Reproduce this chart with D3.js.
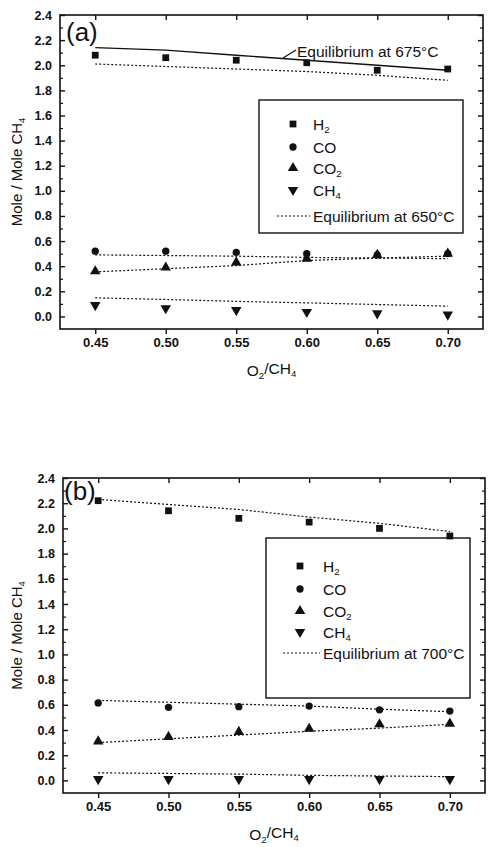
<!DOCTYPE html>
<html>
<head>
<meta charset="utf-8">
<script src="https://cdn.jsdelivr.net/npm/d3@7"></script>
<style>
  body { margin: 0; background: #fff; }
  text { font-family: "Liberation Sans", Arial, sans-serif; fill: #111; }
</style>
</head>
<body>
<script>
var WIDTH  = 488;
var HEIGHT = 847;

// x values and ticks
var o2ch4  = [0.45, 0.50, 0.55, 0.60, 0.65, 0.70];
var xTicks = [0.45, 0.50, 0.55, 0.60, 0.65, 0.70];
var yTicks = [0.0, 0.2, 0.4, 0.6, 0.8, 1.0, 1.2, 1.4, 1.6, 1.8, 2.0, 2.2, 2.4];
var yMinor = [0.1, 0.3, 0.5, 0.7, 0.9, 1.1, 1.3, 1.5, 1.7, 1.9, 2.1, 2.3];

// panel (a): measured
var aH2  = [2.08, 2.06, 2.04, 2.02, 1.96, 1.97];
var aCO  = [0.52, 0.52, 0.51, 0.50, 0.49, 0.50];
var aCO2 = [0.36, 0.39, 0.43, 0.46, 0.49, 0.50];
var aCH4 = [0.09, 0.065, 0.05, 0.035, 0.025, 0.015];
// panel (a): equilibrium at 650 C (dotted) and 675 C (solid, H2 only)
var eq650H2  = [2.01, 1.99, 1.97, 1.95, 1.92, 1.88];
var eq650CO  = [0.49, 0.485, 0.48, 0.47, 0.465, 0.46];
var eq650CO2 = [0.355, 0.38, 0.405, 0.445, 0.465, 0.48];
var eq650CH4 = [0.148, 0.135, 0.12, 0.108, 0.095, 0.082];
var eq675H2  = [2.14, 2.12, 2.08, 2.04, 2.00, 1.96];

// panel (b): measured
var bH2  = [2.22, 2.14, 2.08, 2.05, 2.00, 1.94];
var bCO  = [0.615, 0.58, 0.585, 0.59, 0.56, 0.55];
var bCO2 = [0.31, 0.345, 0.385, 0.41, 0.445, 0.45];
var bCH4 = [0.01, 0.01, 0.01, 0.01, 0.01, 0.01];
// panel (b): equilibrium at 700 C
var eq700H2  = [2.23, 2.19, 2.15, 2.09, 2.04, 1.975];
var eq700CO  = [0.635, 0.62, 0.605, 0.59, 0.565, 0.545];
var eq700CO2 = [0.30, 0.33, 0.36, 0.39, 0.415, 0.445];
var eq700CH4 = [0.06, 0.055, 0.05, 0.04, 0.035, 0.03];

var svg = d3.select('body')
            .append('svg')
            .attr('width', WIDTH)
            .attr('height', HEIGHT);

var symbols = {
  H2:  { type: d3.symbolSquare,   size: 46, rot: 0 },
  CO:  { type: d3.symbolCircle,   size: 42, rot: 0 },
  CO2: { type: d3.symbolTriangle, size: 48, rot: 0 },
  CH4: { type: d3.symbolTriangle, size: 48, rot: 180 }
};

function subText(sel, parts) {
  // parts: [[text, isSub], ...]
  parts.forEach(function(p) {
    var t = sel.append('tspan').text(p[0]);
    if (p[1]) t.attr('font-size', '0.62em').attr('dy', '0.35em');
    else if (sel.selectAll('tspan').size() > 1) t.attr('dy', '-0.35em');
  });
}

function drawPanel(cfg) {
  var g = svg.append('g');
  var x = d3.scaleLinear().domain([0.425, 0.725]).range([cfg.left, cfg.right]);
  var y = d3.scaleLinear().domain([-0.1, 2.4]).range([cfg.bottom, cfg.top]);

  // frame
  g.append('rect')
   .attr('x', cfg.left).attr('y', cfg.top)
   .attr('width', cfg.right - cfg.left).attr('height', cfg.bottom - cfg.top)
   .attr('fill', 'none').attr('stroke', '#111').attr('stroke-width', 1.6);

  // bottom axis, ticks outward
  var xAxis = d3.axisBottom(x).tickValues(xTicks).tickSize(5).tickPadding(4)
                .tickFormat(d3.format('.2f'));
  var gx = g.append('g').attr('transform', 'translate(0,' + cfg.bottom + ')').call(xAxis);
  gx.select('.domain').remove();
  gx.selectAll('line').attr('stroke', '#111').attr('stroke-width', 1.4);
  gx.selectAll('text').attr('font-size', 13).attr('font-weight', 'bold')
    .attr('font-family', '"Liberation Sans", Arial, sans-serif').attr('fill', '#111');

  // top ticks inward
  var xTop = d3.axisBottom(x).tickValues(xTicks).tickSize(5).tickFormat('');
  var gt = g.append('g').attr('transform', 'translate(0,' + cfg.top + ')').call(xTop);
  gt.select('.domain').remove();
  gt.selectAll('line').attr('stroke', '#111').attr('stroke-width', 1.4);

  // left axis, ticks inward
  var yAxis = d3.axisRight(y).tickValues(yTicks).tickSize(5).tickFormat('');
  var gy = g.append('g').attr('transform', 'translate(' + cfg.left + ',0)').call(yAxis);
  gy.select('.domain').remove();
  gy.selectAll('line').attr('stroke', '#111').attr('stroke-width', 1.4);
  g.append('g').attr('transform', 'translate(' + cfg.left + ',0)')
   .call(d3.axisRight(y).tickValues(yMinor).tickSize(3).tickFormat(''))
   .call(function(s) { s.select('.domain').remove(); s.selectAll('line').attr('stroke', '#111').attr('stroke-width', 1.2); });

  g.selectAll('.ylab').data(yTicks).enter().append('text')
   .attr('class', 'ylab')
   .attr('x', cfg.left - 8).attr('y', function(d) { return y(d) + 4.5; })
   .attr('text-anchor', 'end').attr('font-size', 12.5).attr('font-weight', 'bold')
   .text(d3.format('.1f'));

  // right axis, ticks inward
  g.append('g').attr('transform', 'translate(' + cfg.right + ',0)')
   .call(d3.axisLeft(y).tickValues(yTicks).tickSize(5).tickFormat(''))
   .call(function(s) { s.select('.domain').remove(); s.selectAll('line').attr('stroke', '#111').attr('stroke-width', 1.4); });
  g.append('g').attr('transform', 'translate(' + cfg.right + ',0)')
   .call(d3.axisLeft(y).tickValues(yMinor).tickSize(3).tickFormat(''))
   .call(function(s) { s.select('.domain').remove(); s.selectAll('line').attr('stroke', '#111').attr('stroke-width', 1.2); });

  // axis titles
  var xt = g.append('text').attr('x', (cfg.left + cfg.right) / 2).attr('y', cfg.bottom + 47)
            .attr('text-anchor', 'middle').attr('font-size', 15.5);
  subText(xt, [['O', false], ['2', true], ['/CH', false], ['4', true]]);

  var yt = g.append('text')
            .attr('transform', 'translate(' + 22 + ',' + ((cfg.top + cfg.bottom) / 2) + ') rotate(-90)')
            .attr('text-anchor', 'middle').attr('font-size', 15);
  subText(yt, [['Mole / Mole CH', false], ['4', true]]);

  // panel label
  g.append('text').attr('x', cfg.labelX).attr('y', cfg.labelY)
   .attr('font-size', 26).text(cfg.label);

  // equilibrium lines
  var line = d3.line().x(function(d, i) { return x(o2ch4[i]); }).y(function(d) { return y(d); });
  cfg.dotted.forEach(function(arr) {
    g.append('path').datum(arr).attr('d', line)
     .attr('fill', 'none').attr('stroke', '#111').attr('stroke-width', 1.2)
     .attr('stroke-dasharray', '2,2');
  });
  (cfg.solid || []).forEach(function(arr) {
    g.append('path').datum(arr).attr('d', line)
     .attr('fill', 'none').attr('stroke', '#111').attr('stroke-width', 1.4);
  });

  // legend box
  var L = cfg.legend;
  g.append('rect').attr('x', L.x0).attr('y', L.y0)
   .attr('width', L.x1 - L.x0).attr('height', L.y1 - L.y0)
   .attr('fill', '#fff').attr('stroke', '#111').attr('stroke-width', 1.4);

  // points
  cfg.series.forEach(function(s) {
    var sym = symbols[s.key];
    g.selectAll(null).data(s.values).enter().append('path')
     .attr('d', d3.symbol().type(sym.type).size(sym.size))
     .attr('transform', function(d, i) {
       return 'translate(' + x(o2ch4[i]) + ',' + y(d) + ') rotate(' + sym.rot + ')';
     })
     .attr('fill', '#111');
  });

  // legend entries
  var names = [
    { key: 'H2',  parts: [['H', false], ['2', true]] },
    { key: 'CO',  parts: [['CO', false]] },
    { key: 'CO2', parts: [['CO', false], ['2', true]] },
    { key: 'CH4', parts: [['CH', false], ['4', true]] }
  ];
  names.forEach(function(n, i) {
    var sym = symbols[n.key];
    var cy = L.rows[i];
    g.append('path').attr('d', d3.symbol().type(sym.type).size(sym.size))
     .attr('transform', 'translate(' + L.mx + ',' + cy + ') rotate(' + sym.rot + ')')
     .attr('fill', '#111');
    var t = g.append('text').attr('x', L.tx).attr('y', cy + 5.5).attr('font-size', 15.5);
    subText(t, n.parts);
  });
  var ey = L.rows[4];
  g.append('line').attr('x1', L.lx0).attr('x2', L.lx1).attr('y1', ey).attr('y2', ey)
   .attr('stroke', '#111').attr('stroke-width', 1.1).attr('stroke-dasharray', '2,2');
  g.append('text').attr('x', L.lx1 + 3).attr('y', ey + 5.5).attr('font-size', 15.5)
   .text(L.eqText);

  return { x: x, y: y, g: g };
}

var pa = drawPanel({
  left: 60, right: 483, top: 15, bottom: 329,
  label: '(a)', labelX: 66, labelY: 41,
  dotted: [eq650H2, eq650CO, eq650CO2, eq650CH4],
  solid: [eq675H2],
  series: [
    { key: 'H2', values: aH2 }, { key: 'CO', values: aCO },
    { key: 'CO2', values: aCO2 }, { key: 'CH4', values: aCH4 }
  ],
  legend: { x0: 259, x1: 463, y0: 100, y1: 233, mx: 293, tx: 313,
            rows: [124, 147, 168, 190, 216], lx0: 277, lx1: 310,
            eqText: 'Equilibrium at 650\u00b0C' }
});

// annotation for the 675 C line
pa.g.append('line').attr('x1', 283).attr('y1', 58).attr('x2', 296).attr('y2', 50)
    .attr('stroke', '#111').attr('stroke-width', 1.1);
pa.g.append('text').attr('x', 297).attr('y', 57).attr('font-size', 15.5)
    .text('Equilibrium at 675\u00b0C');

drawPanel({
  left: 63, right: 485, top: 478, bottom: 793,
  label: '(b)', labelX: 64, labelY: 500,
  dotted: [eq700H2, eq700CO, eq700CO2, eq700CH4],
  series: [
    { key: 'H2', values: bH2 }, { key: 'CO', values: bCO },
    { key: 'CO2', values: bCO2 }, { key: 'CH4', values: bCH4 }
  ],
  legend: { x0: 266, x1: 470, y0: 538, y1: 698, mx: 300, tx: 323,
            rows: [566, 589, 611, 632, 653], lx0: 283, lx1: 320,
            eqText: 'Equilibrium at 700\u00b0C' }
});
</script>
</body>
</html>
